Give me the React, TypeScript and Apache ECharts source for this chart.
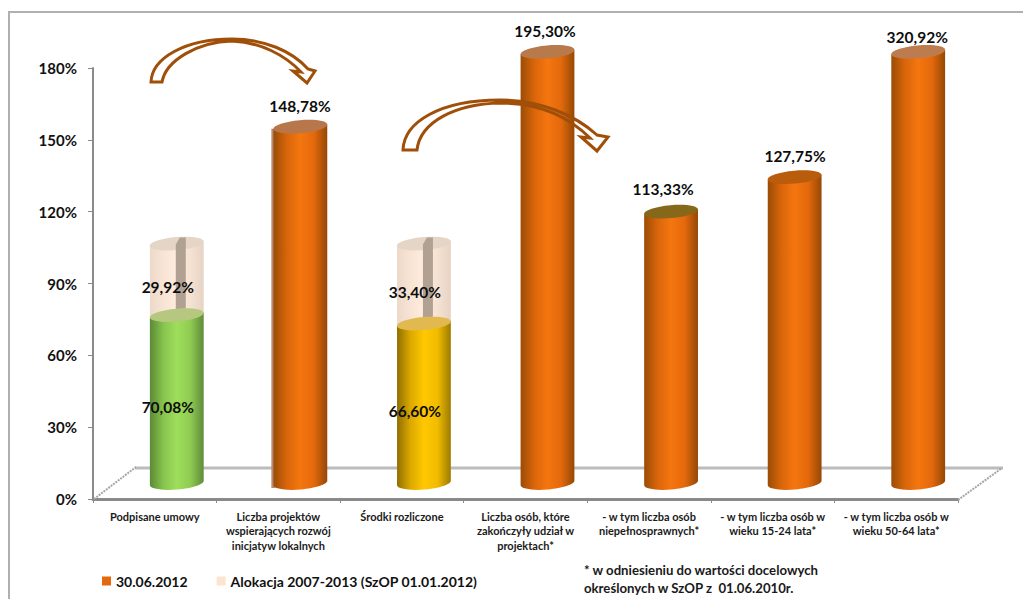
import React, { useEffect, useRef } from "react";
import * as echarts from "echarts";

const categories = [
  "Podpisane umowy",
  "Liczba projektów\nwspierających rozwój\ninicjatyw lokalnych",
  "Środki rozliczone",
  "Liczba osób, które\nzakończyły udział w\nprojektach*",
  "- w tym liczba osób\nniepełnosprawnych*",
  "- w tym liczba osób w\nwieku 15-24 lata*",
  "- w tym liczba osób w\nwieku 50-64 lata*",
];
const achieved = [70.08, 148.78, 66.6, 195.3, 113.33, 127.75, 320.92];
const remaining = [29.92, null, 33.4, null, null, null, null];
const yMax = 180;
const yStep = 30;

const FONT = "Lato, Carlito, 'Open Sans', sans-serif";
const ORANGE = ["#9a4c05", "#d9650b", "#f5760f", "#e4690c", "#954805"];
const GREEN = ["#5c8a36", "#86c44e", "#9fde5b", "#8fcc52", "#5f8c3a"];
const YELLOW = ["#8f6f00", "#dca900", "#ffc800", "#f2bc00", "#9c7b00"];
const PALE = ["#ecd9c9", "#f8e4d4", "#feecde", "#f6e2d2", "#e6d3c3"];
const bodyColors = [GREEN, ORANGE, YELLOW, ORANGE, ORANGE, ORANGE, ORANGE];
const topColors = ["#b6c77f", "#b8774a", "#e2b94f", "#b87a4a", "#85681a", "#b95c0b", "#bd7c4e"];
// offset of each value label from the axis position of the bar top
const topLabelDx = [0, 21.6, 0, 19.5, 14, 22.4, 21];
const topLabelDy = [0, -37, 0, -37, -39, -37, -31];

const DEPTH_X = 22;
const DEPTH_Y = -16;
const R = 27;
const RY = 6.5;
const TILT = 5;
const KAPPA = 0.5523;
const cosT = Math.cos((TILT * Math.PI) / 180);
const sinT = Math.sin((TILT * Math.PI) / 180);
const ax = R * cosT, ay = -R * sinT; // major axis, towards the right end
const bx = RY * sinT, by = RY * cosT; // minor axis, towards the bottom

function grad(stops: string[]) {
  return new echarts.graphic.LinearGradient(
    0, 0, 1, 0,
    stops.map((color, i) => ({ offset: i / (stops.length - 1), color }))
  );
}
const pct = (v: number) => v.toFixed(2).replace(".", ",") + "%";

// point of the tilted ellipse, in major and minor axis units
function pt(cx: number, cy: number, u: number, v: number) {
  return `${cx + u * ax + v * bx} ${cy + u * ay + v * by}`;
}
function lowerHalf(cx: number, cy: number) {
  const k = KAPPA;
  return (
    `C${pt(cx, cy, -1, k)} ${pt(cx, cy, -k, 1)} ${pt(cx, cy, 0, 1)}` +
    `C${pt(cx, cy, k, 1)} ${pt(cx, cy, 1, k)} ${pt(cx, cy, 1, 0)}`
  );
}
function upperHalf(cx: number, cy: number) {
  const k = KAPPA;
  return (
    `C${pt(cx, cy, 1, -k)} ${pt(cx, cy, k, -1)} ${pt(cx, cy, 0, -1)}` +
    `C${pt(cx, cy, -k, -1)} ${pt(cx, cy, -1, -k)} ${pt(cx, cy, -1, 0)}`
  );
}
function ellipsePath(cx: number, cy: number) {
  return `M${pt(cx, cy, -1, 0)}${lowerHalf(cx, cy)}${upperHalf(cx, cy)}Z`;
}
function bodyPath(cx: number, yTop: number, yBot: number) {
  return `M${pt(cx, yTop, -1, 0)}L${pt(cx, yBot, -1, 0)}${lowerHalf(cx, yBot)}L${pt(cx, yTop, 1, 0)}Z`;
}
function labelStyle(text: string, x: number, y: number) {
  return {
    text, x, y, fill: "#0d0d0d",
    fontSize: 15.5, fontWeight: "bold", fontFamily: FONT,
    textAlign: "center", textVerticalAlign: "middle",
  };
}

function renderAchieved(_p: any, api: any) {
  const i = api.value(0);
  const v = api.value(1);
  const top = api.coord([i, Math.min(v, yMax)]);
  const base = api.coord([i, 0]);
  const cx = top[0] + DEPTH_X;
  const yT = top[1] + DEPTH_Y;
  const yB = base[1] + DEPTH_Y;
  const children: any[] = [];
  if (i === 1) {
    children.push({
      type: "rect",
      shape: { x: cx - R - 2, y: yT + 2, width: 4, height: yB - yT + 3 },
      style: { fill: "#b58a6c" },
    });
  }
  children.push({ type: "path", shape: { pathData: bodyPath(cx, yT, yB) }, style: { fill: grad(bodyColors[i]) } });
  children.push({ type: "path", shape: { pathData: ellipsePath(cx, yT) }, style: { fill: topColors[i] } });
  if (remaining[i] != null) {
    const mid = api.coord([i, v / 2]);
    children.push({ type: "text", style: labelStyle(pct(v), mid[0] + 13, mid[1] - 8) });
  } else {
    children.push({ type: "text", style: labelStyle(pct(v), top[0] + topLabelDx[i], top[1] + topLabelDy[i]) });
  }
  return { type: "group", children };
}

function renderRemaining(_p: any, api: any) {
  const i = api.value(0);
  const lo = api.value(1);
  const add = api.value(2);
  const top = api.coord([i, lo + add]);
  const bot = api.coord([i, lo]);
  const cx = top[0] + DEPTH_X;
  const yT = top[1] + DEPTH_Y;
  const yB = bot[1] + DEPTH_Y;
  const mid = api.coord([i, lo + add / 2]);
  return {
    type: "group",
    children: [
      { type: "path", shape: { pathData: bodyPath(cx, yT, yB) }, style: { fill: grad(PALE) } },
      { type: "path", shape: { pathData: ellipsePath(cx, yT) }, style: { fill: "#e5d5c7" } },
      {
        type: "polygon",
        shape: {
          points: [
            [cx - 1, yT + 1], [cx + 3, yT - 6], [cx + 9, yT - 6], [cx + 9, yB - 7], [cx - 1, yB - 1],
          ],
        },
        style: { fill: "#b1a193" },
      },
      { type: "text", style: labelStyle(pct(add), mid[0] + 13, mid[1] - 8) },
    ],
  };
}

const arrowA =
  "M151 82C152 58 185 39 232 39C264 39 292 51 308 69L315 71L307 83L293 71L301 72C285 55 260 42 232 41C198 42 166 60 162 82Z";
const arrowB =
  "M403 150C404 122 440 100 500 100C540 100 575 115 597 135L608 137L597 151L581 137L590 138C570 118 540 103 500 103C455 104 420 122 417 150Z";
echarts.graphic.registerShape("arrowA", echarts.graphic.extendPath(arrowA, {}) as any);
echarts.graphic.registerShape("arrowB", echarts.graphic.extendPath(arrowB, {}) as any);

export default function App() {
  const ref = useRef<HTMLDivElement>(null);
  useEffect(() => {
    document.body.style.margin = "0";
    const chart = echarts.init(ref.current!, undefined, { renderer: "svg" });
    const arrowStyle = { fill: "rgba(255,255,255,0)", stroke: "#a04f08", lineWidth: 3, lineJoin: "miter" };
    const diag = { stroke: "#a6a6a6", lineWidth: 2, lineDash: [2, 1] };
    chart.setOption({
      animation: false,
      backgroundColor: "#ffffff",
      grid: { left: 93, top: 68, width: 865, height: 431, containLabel: false },
      xAxis: {
        type: "category",
        data: categories,
        axisLine: { lineStyle: { color: "#8a8a8a", width: 3 } },
        axisTick: { show: true, length: 4, lineStyle: { color: "#8a8a8a", width: 1 } },
        axisLabel: {
          interval: 0, margin: 10, lineHeight: 14.5,
          fontSize: 11, fontWeight: "bold", fontFamily: FONT, color: "#1a1a1a",
        },
      },
      yAxis: {
        type: "value",
        min: 0, max: yMax, interval: yStep,
        splitLine: { show: false },
        axisLine: { show: true, lineStyle: { color: "#8a8a8a", width: 2 } },
        axisTick: { show: true, length: 5, lineStyle: { color: "#8a8a8a", width: 1 } },
        axisLabel: {
          formatter: "{value}%", margin: 16, padding: [6, 0, 0, 0],
          fontSize: 15, fontWeight: "bold", fontFamily: FONT, color: "#111111",
        },
      },
      legend: {
        left: 102, top: 574, padding: 0, itemWidth: 9, itemHeight: 9, itemGap: 29, icon: "rect",
        textStyle: { fontSize: 14, fontWeight: "bold", fontFamily: FONT, color: "#111111", padding: [1, 0, 0, 0] },
        data: [
          { name: "30.06.2012", itemStyle: { color: "#e36a0c" } },
          { name: "Alokacja 2007-2013 (SzOP 01.01.2012)", itemStyle: { color: "#fde4d0" } },
        ],
      },
      series: [
        {
          name: "30.06.2012",
          type: "custom", z: 4,
          itemStyle: { color: "#e36a0c" },
          renderItem: renderAchieved,
          encode: { x: 0, y: 1 },
          data: achieved.map((v, i) => [i, v]),
        },
        {
          name: "Alokacja 2007-2013 (SzOP 01.01.2012)",
          type: "custom", z: 3,
          itemStyle: { color: "#fde4d0" },
          renderItem: renderRemaining,
          encode: { x: 0, y: 1 },
          data: remaining
            .map((v, i) => (v == null ? null : [i, achieved[i], v]))
            .filter(Boolean),
        },
      ],
      graphic: [
        { type: "polyline", z: 1, shape: { points: [[9, 599], [9, 12], [1023, 12]] }, style: { fill: "none", stroke: "#b0b0b0", lineWidth: 2 } },
        { type: "line", z: 1, shape: { x1: 135, y1: 468, x2: 1003, y2: 468 }, style: { stroke: "#bcbcbc", lineWidth: 3 } },
        { type: "line", z: 1, shape: { x1: 94, y1: 499, x2: 136, y2: 467 }, style: diag },
        { type: "line", z: 1, shape: { x1: 958, y1: 500, x2: 1002, y2: 468 }, style: diag },
        { type: "arrowA", z: 50, x: 0, y: 0, style: arrowStyle },
        { type: "arrowB", z: 50, x: 0, y: 0, style: arrowStyle },
        {
          type: "text", z: 50, x: 584, y: 561,
          style: {
            text: "* w odniesieniu do wartości docelowych\nokreślonych w SzOP z  01.06.2010r.",
            fontSize: 13.2, fontWeight: "bold", fontFamily: FONT, fill: "#1a1a1a", lineHeight: 18,
          },
        },
      ],
    });
    return () => chart.dispose();
  }, []);
  return <div ref={ref} style={{ width: 1023, height: 599, overflow: "hidden" }} />;
}
